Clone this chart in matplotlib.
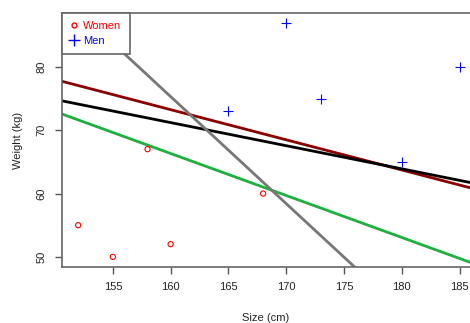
import matplotlib
matplotlib.use("Agg")
import matplotlib.pyplot as plt
from matplotlib.lines import Line2D

plt.rcParams['font.family'] = ['Liberation Sans', 'DejaVu Sans']

women_size = [152, 155, 158, 160, 168]
women_weight = [55, 50, 67, 52, 60]
men_size = [165, 170, 173, 180, 185]
men_weight = [73, 87, 75, 65, 80]

# lines: weight = intercept + slope * size
line_intercepts = [149.4, 129.6, 172.4, 345.7]
line_slopes = [-0.476, -0.365, -0.663, -1.69]
line_colors = ['#8B0000', '#000000', '#1DB03E', '#777777']

x_ticks = [155, 160, 165, 170, 175, 180, 185]
y_ticks = [50, 60, 70, 80]

FS = 8

fig = plt.figure(figsize=(4.70, 3.23), dpi=100)
ax = fig.add_axes([62/470, 56/323, 1.0 - 62/470, (267-13)/323])

for a, b, c in zip(line_intercepts, line_slopes, line_colors):
    ax.axline((0, a), slope=b, color=c, lw=2, zorder=2)

ax.scatter(women_size, women_weight, marker='o', facecolors='none', edgecolors='red',
           s=14, linewidths=0.8, zorder=3)
ax.scatter(men_size, men_weight, marker='+', color='blue', s=50, linewidths=0.8, zorder=3)

ax.set_xlim(150.6, 185.9)
ax.set_ylim(48.4, 88.5)
ax.set_xticks(x_ticks)
ax.set_yticks(y_ticks)
ax.tick_params(axis='both', direction='out', length=5, width=1, color='#555555',
               labelsize=FS, labelcolor='#222222', pad=6)
for lab in ax.get_yticklabels():
    lab.set_rotation(90)
    lab.set_va('center')

for side in ['left', 'bottom', 'top']:
    ax.spines[side].set_color('#666666')
    ax.spines[side].set_linewidth(1.2)
ax.spines['right'].set_visible(False)

ax.set_xlabel('Size (cm)', fontsize=FS, color='#222222', labelpad=15)
ax.set_ylabel('Weight (kg)', fontsize=FS, color='#222222', labelpad=10)

handles = [Line2D([], [], marker='o', ls='none', markerfacecolor='none', markeredgecolor='red', markersize=3.5),
           Line2D([], [], marker='+', ls='none', color='blue', markersize=8)]
leg = ax.legend(handles, ['Women', 'Men'], loc='upper left', bbox_to_anchor=(0, 1),
                frameon=True, fancybox=False, framealpha=1, edgecolor='#666666',
                fontsize=FS, handlelength=0.6, handletextpad=0.55, borderpad=0.75,
                labelspacing=0.42, borderaxespad=0)
leg.get_frame().set_linewidth(1.2)
for t, c in zip(leg.get_texts(), ['red', 'blue']):
    t.set_color(c)
leg.set_zorder(5)

fig.savefig('out.png', dpi=100)
